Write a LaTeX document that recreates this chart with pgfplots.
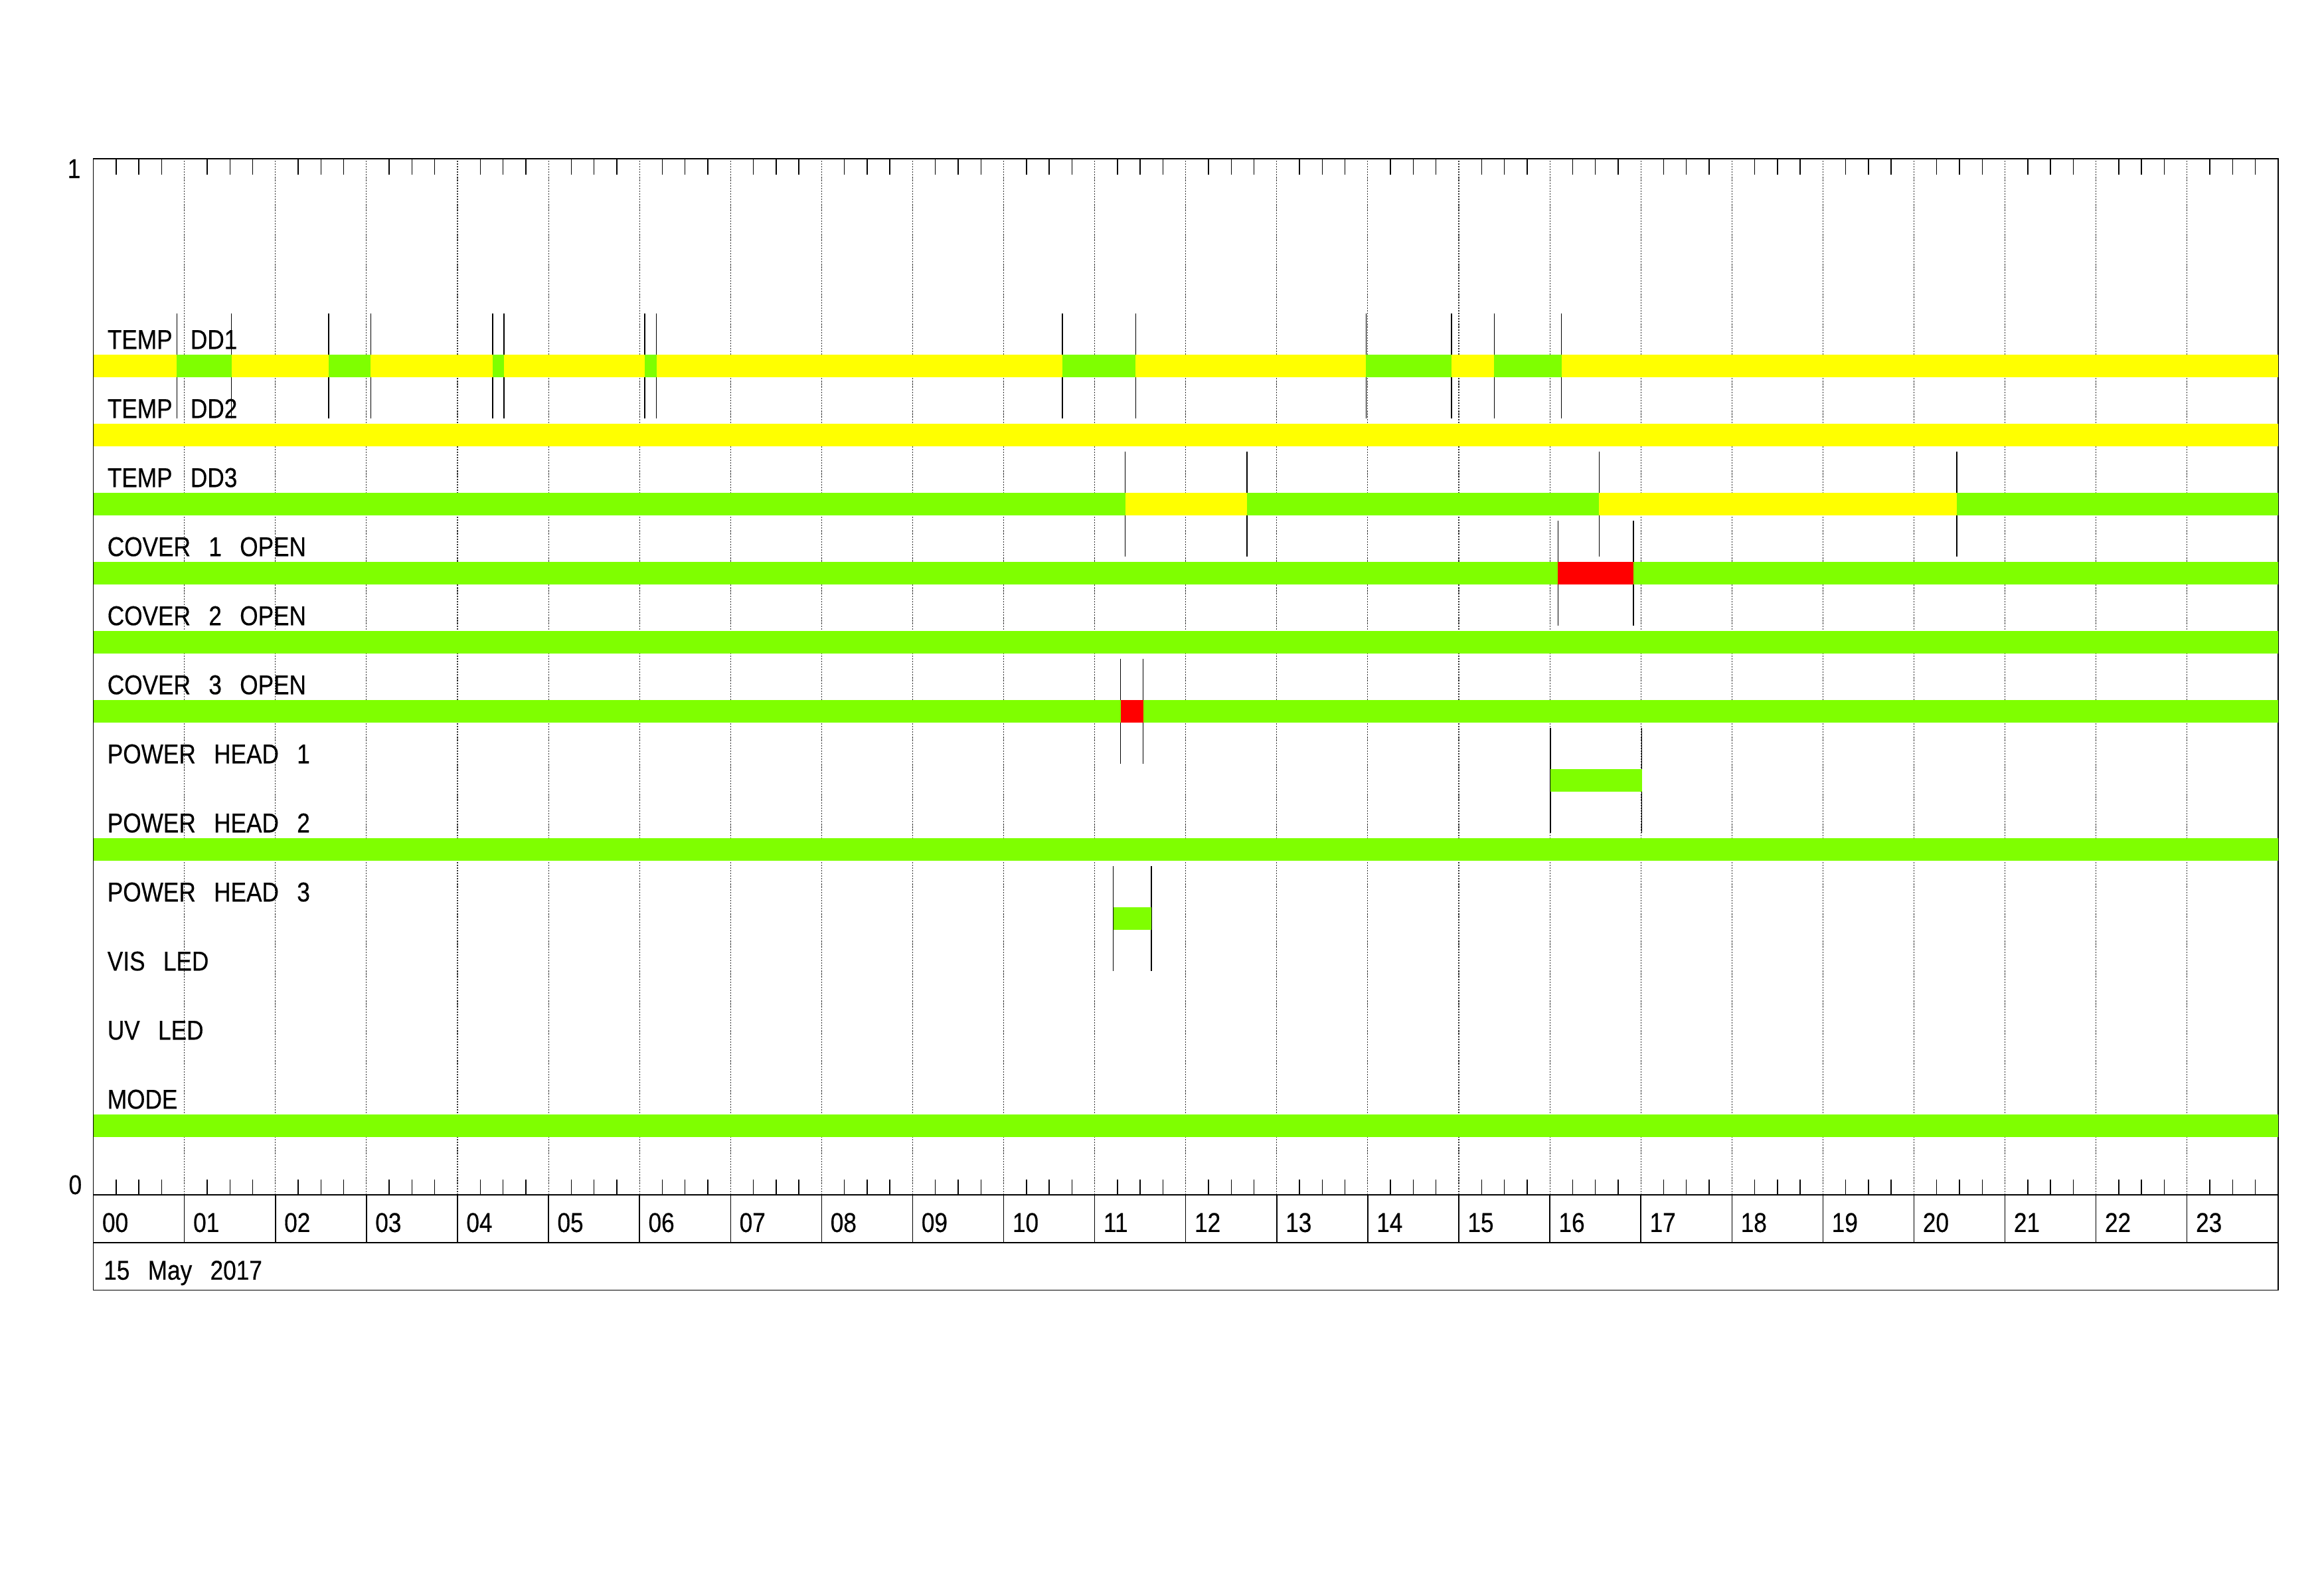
\documentclass[border=0pt]{standalone}
\usepackage{pgfplots}
\pgfplotsset{compat=1.18}
\usepackage{fontspec}
\setmainfont{Liberation Sans}[FakeStretch=0.86,WordSpace=2.8,FakeBold=0.4]
\definecolor{sgreen}{RGB}{127,255,0}
\definecolor{syellow}{RGB}{255,255,0}
\definecolor{sred}{RGB}{255,0,0}
\newcommand{\lf}{\fontsize{11pt}{13pt}\selectfont}
\begin{document}
\begin{tikzpicture}[font=\lf]
\useasboundingbox (0,0) rectangle (940.8pt,645pt);
\begin{axis}[
  at={(37.8pt,161.4pt)}, anchor=south west,
  width=884.4pt, height=419.3pt, scale only axis,
  xmin=0, xmax=24, ymin=0, ymax=1,
  clip=false, no markers,
  axis line style={black, line width=0.4pt},
  every tick/.style={black, line width=0.4pt},
  tick align=inside, xtick pos=both,
  major tick length=0pt, minor tick length=6.3pt,
  xtick={0,...,24},
  xticklabels={00,01,02,03,04,05,06,07,08,09,10,11,12,13,14,15,16,17,18,19,20,21,22,23,{}},
  minor x tick num=3,
  xticklabel style={anchor=base west, inner sep=0pt, xshift=3.4pt, yshift=-15pt, font=\lf},
  xmajorgrids,
  major grid style={black!80, line width=0.3pt, dash pattern=on 0.6pt off 0.5pt},
  /pgf/number format/assume math mode=true,
  ytick={0}, yticklabels={0},
  yticklabel style={anchor=south east, inner sep=0pt, xshift=-4.5pt, font=\lf},
  extra y ticks={1}, extra y tick labels={1},
  extra y tick style={yticklabel style={anchor=north east, xshift=-0.5pt}},
]
% transition markers
\addplot[black, line width=0.4pt, unbounded coords=jump] coordinates {
 (0,0.7495)(0,0.8505) (nan,nan)
 (0.917,0.7495)(0.917,0.8505) (nan,nan)
 (1.517,0.7495)(1.517,0.8505) (nan,nan)
 (2.585,0.7495)(2.585,0.8505) (nan,nan)
 (3.048,0.7495)(3.048,0.8505) (nan,nan)
 (4.386,0.7495)(4.386,0.8505) (nan,nan)
 (4.512,0.7495)(4.512,0.8505) (nan,nan)
 (6.056,0.7495)(6.056,0.8505) (nan,nan)
 (6.186,0.7495)(6.186,0.8505) (nan,nan)
 (10.646,0.7495)(10.646,0.8505) (nan,nan)
 (11.451,0.7495)(11.451,0.8505) (nan,nan)
 (13.982,0.7495)(13.982,0.8505) (nan,nan)
 (14.920,0.7495)(14.920,0.8505) (nan,nan)
 (15.389,0.7495)(15.389,0.8505) (nan,nan)
 (16.128,0.7495)(16.128,0.8505) (nan,nan)
 (11.336,0.61617)(11.336,0.71717) (nan,nan)
 (12.672,0.61617)(12.672,0.71717) (nan,nan)
 (16.541,0.61617)(16.541,0.71717) (nan,nan)
 (20.472,0.61617)(20.472,0.71717) (nan,nan)
 (16.09,0.5495)(16.09,0.6505) (nan,nan)
 (16.92,0.5495)(16.92,0.6505) (nan,nan)
 (11.285,0.41617)(11.285,0.51717) (nan,nan)
 (11.533,0.41617)(11.533,0.51717) (nan,nan)
 (16.005,0.3495)(16.005,0.4505) (nan,nan)
 (17.01,0.3495)(17.01,0.4505) (nan,nan)
 (11.204,0.21617)(11.204,0.31717) (nan,nan)
 (11.623,0.21617)(11.623,0.31717) (nan,nan)
 (0,0.01617)(0,0.11717)
};
% yellow segments
\addplot[draw=syellow, line width=9.1pt, unbounded coords=jump] coordinates {
 (0,0.8)(0.917,0.8) (nan,nan)
 (1.517,0.8)(2.585,0.8) (nan,nan)
 (3.048,0.8)(4.386,0.8) (nan,nan)
 (4.512,0.8)(6.056,0.8) (nan,nan)
 (6.186,0.8)(10.646,0.8) (nan,nan)
 (11.451,0.8)(13.982,0.8) (nan,nan)
 (14.920,0.8)(15.389,0.8) (nan,nan)
 (16.128,0.8)(24,0.8) (nan,nan)
 (0,0.73333)(24,0.73333) (nan,nan)
 (11.336,0.66667)(12.672,0.66667) (nan,nan)
 (16.541,0.66667)(20.472,0.66667)
};
% green segments
\addplot[draw=sgreen, line width=9.1pt, unbounded coords=jump] coordinates {
 (0.917,0.8)(1.517,0.8) (nan,nan)
 (2.585,0.8)(3.048,0.8) (nan,nan)
 (4.386,0.8)(4.512,0.8) (nan,nan)
 (6.056,0.8)(6.186,0.8) (nan,nan)
 (10.646,0.8)(11.451,0.8) (nan,nan)
 (13.982,0.8)(14.920,0.8) (nan,nan)
 (15.389,0.8)(16.128,0.8) (nan,nan)
 (0,0.66667)(11.336,0.66667) (nan,nan)
 (12.672,0.66667)(16.541,0.66667) (nan,nan)
 (20.472,0.66667)(24,0.66667) (nan,nan)
 (0,0.6)(16.09,0.6) (nan,nan)
 (16.92,0.6)(24,0.6) (nan,nan)
 (0,0.53333)(24,0.53333) (nan,nan)
 (0,0.46667)(11.285,0.46667) (nan,nan)
 (11.533,0.46667)(24,0.46667) (nan,nan)
 (16.005,0.4)(17.01,0.4) (nan,nan)
 (0,0.33333)(24,0.33333) (nan,nan)
 (11.204,0.26667)(11.623,0.26667) (nan,nan)
 (0,0.06667)(24,0.06667)
};
% red segments
\addplot[draw=sred, line width=9.1pt, unbounded coords=jump] coordinates {
 (16.09,0.6)(16.92,0.6) (nan,nan)
 (11.285,0.46667)(11.533,0.46667)
};
% row labels
\node[anchor=base west, inner sep=0pt, xshift=5.5pt, yshift=6.95pt] at (axis cs:0,0.8) {TEMP DD1};
\node[anchor=base west, inner sep=0pt, xshift=5.5pt, yshift=6.95pt] at (axis cs:0,0.73333) {TEMP DD2};
\node[anchor=base west, inner sep=0pt, xshift=5.5pt, yshift=6.95pt] at (axis cs:0,0.66667) {TEMP DD3};
\node[anchor=base west, inner sep=0pt, xshift=5.5pt, yshift=6.95pt] at (axis cs:0,0.6) {COVER 1 OPEN};
\node[anchor=base west, inner sep=0pt, xshift=5.5pt, yshift=6.95pt] at (axis cs:0,0.53333) {COVER 2 OPEN};
\node[anchor=base west, inner sep=0pt, xshift=5.5pt, yshift=6.95pt] at (axis cs:0,0.46667) {COVER 3 OPEN};
\node[anchor=base west, inner sep=0pt, xshift=5.5pt, yshift=6.95pt] at (axis cs:0,0.4) {POWER HEAD 1};
\node[anchor=base west, inner sep=0pt, xshift=5.5pt, yshift=6.95pt] at (axis cs:0,0.33333) {POWER HEAD 2};
\node[anchor=base west, inner sep=0pt, xshift=5.5pt, yshift=6.95pt] at (axis cs:0,0.26667) {POWER HEAD 3};
\node[anchor=base west, inner sep=0pt, xshift=5.5pt, yshift=6.95pt] at (axis cs:0,0.2) {VIS LED};
\node[anchor=base west, inner sep=0pt, xshift=5.5pt, yshift=6.95pt] at (axis cs:0,0.13333) {UV LED};
\node[anchor=base west, inner sep=0pt, xshift=5.5pt, yshift=6.95pt] at (axis cs:0,0.06667) {MODE};
% time boxes below the axis
\draw[black, line width=0.4pt] (rel axis cs:0,0) -- ++(0pt,-38.5pt) -| (rel axis cs:1,0);
\draw[black, line width=0.4pt] ([yshift=-19.3pt]rel axis cs:0,0) -- ([yshift=-19.3pt]rel axis cs:1,0);
\pgfplotsinvokeforeach{1,...,23}{\draw[black, line width=0.4pt] (axis cs:#1,0) -- ++(0pt,-19.3pt);}
\node[anchor=base west, inner sep=0pt] at ([xshift=4pt,yshift=-34.3pt]rel axis cs:0,0) {15 May 2017};
\end{axis}
\end{tikzpicture}
\end{document}
